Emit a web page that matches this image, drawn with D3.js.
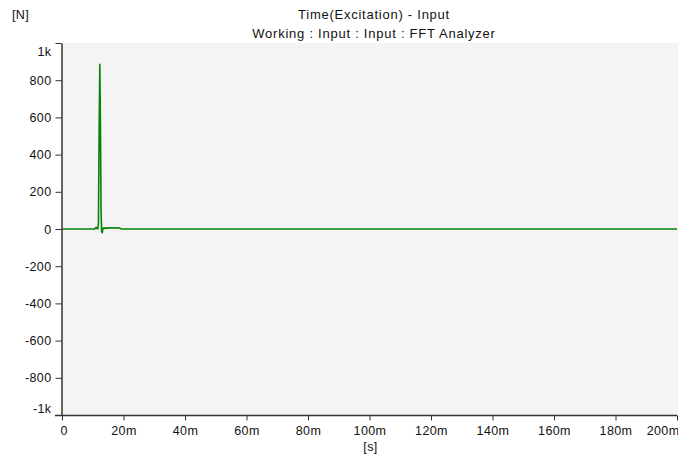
<!DOCTYPE html>
<html>
<head>
<meta charset="UTF-8" />
<title>Time(Excitation) - Input</title>
<script src="https://cdn.jsdelivr.net/npm/d3@7"></script>
<style>
body{margin:0;background:#fff;}
text{font-family:"Liberation Sans",Arial,sans-serif;font-size:12.5px;fill:#111;letter-spacing:0.4px;}
</style>
</head>
<body>
<div id="chart"></div>
<script type="text/javascript">
var w=678,h=457;
var plotLeft=62,plotRight=677,plotTop=43,plotBottom=415;

var titleLines=["Time(Excitation) - Input","Working : Input : Input : FFT Analyzer"];
var yUnit="[N]",xUnit="[s]";

// time in ms, force in N
var times=[0,10.5,10.8,11.1,11.4,11.65,11.85,12.05,12.3,12.5,12.7,12.9,13.1,13.3,13.55,13.8,14.1,14.4,14.7,15.0,15.4,15.8,16.2,16.6,17.0,17.4,17.8,18.2,18.6,19.0,19.4,200];
var force=[0,0,3,9,2,0,30,480,885,560,90,-15,-20,2,6,3,6,4,7,4,6,5,7,5,6,5,6,5,6,3,0,0];

var xTicks=[0,20,40,60,80,100,120,140,160,180,200];
var xLabels=["0","20m","40m","60m","80m","100m","120m","140m","160m","180m","200m"];
var yTicks=[1000,800,600,400,200,0,-200,-400,-600,-800,-1000];
var yLabels=["1k","800","600","400","200","0","-200","-400","-600","-800","-1k"];

var svg=d3.select('#chart').append('svg')
          .attr('width',w)
          .attr('height',h);

var x=d3.scaleLinear().domain([0,200]).range([plotLeft,plotRight]);
var y=d3.scaleLinear().domain([-1000,1000]).range([plotBottom,plotTop]);

svg.append('rect')
   .attr('x',plotLeft).attr('y',plotTop)
   .attr('width',w-plotLeft).attr('height',plotBottom-plotTop)
   .attr('fill','#f4f4f4');

var data=times.map(function(t,i){return [t,force[i]];});

svg.append('path')
   .datum(data)
   .attr('fill','none')
   .attr('stroke','#068306')
   .attr('stroke-width',1.6)
   .attr('stroke-linejoin','round')
   .attr('d',d3.line().x(function(d){return x(d[0]);}).y(function(d){return y(d[1]);}));

// y axis
var yAxis=svg.append('g')
   .attr('transform','translate('+(plotLeft-0.5)+',0)')
   .call(d3.axisLeft(y).tickValues(yTicks).tickSize(6).tickSizeOuter(0)
          .tickFormat(function(d,i){return yLabels[i];}));
yAxis.select('.domain').attr('stroke','#333').attr('stroke-width',1.5);
yAxis.selectAll('.tick line').attr('stroke','#333');
yAxis.selectAll('.tick text')
     .attr('x',-10)
     .attr('fill','#111')
     .style('font-family','"Liberation Sans",Arial,sans-serif')
     .style('font-size','12.5px')
     .attr('dy',function(d){
        if(d==1000) return '1.0em';
        if(d==-1000) return '-0.2em';
        return '0.32em';
     });

// x axis
var xAxis=svg.append('g')
   .attr('transform','translate(0,'+(plotBottom+0.5)+')')
   .call(d3.axisBottom(x).tickValues(xTicks).tickSize(5).tickSizeOuter(0)
          .tickFormat(function(d,i){return xLabels[i];}));
xAxis.select('.domain').attr('stroke','#333').attr('stroke-width',1.5)
     .attr('d','M'+(plotLeft-7)+',0H'+plotRight);
xAxis.selectAll('.tick line').attr('stroke','#333');
xAxis.selectAll('.tick text')
     .attr('y',11)
     .attr('fill','#111')
     .style('font-family','"Liberation Sans",Arial,sans-serif')
     .style('font-size','12.5px')
     .attr('text-anchor',function(d){return d==200?'end':(d==0?'start':'middle');})
     .attr('x',function(d){return d==200?2:(d==0?-2:0);});

svg.append('text')
   .attr('x',(plotLeft+plotRight)/2+1)
   .attr('y',451)
   .attr('text-anchor','middle')
   .text(xUnit);

svg.append('text')
   .attr('x',12)
   .attr('y',19)
   .text(yUnit);

svg.selectAll('.title')
   .data(titleLines)
   .enter()
   .append('text')
   .attr('class','title')
   .attr('x',374)
   .attr('y',function(d,i){return 19+i*19;})
   .attr('text-anchor','middle')
   .style('font-size','13px')
   .style('letter-spacing','0.75px')
   .text(function(d){return d;});
</script>
</body>
</html>
